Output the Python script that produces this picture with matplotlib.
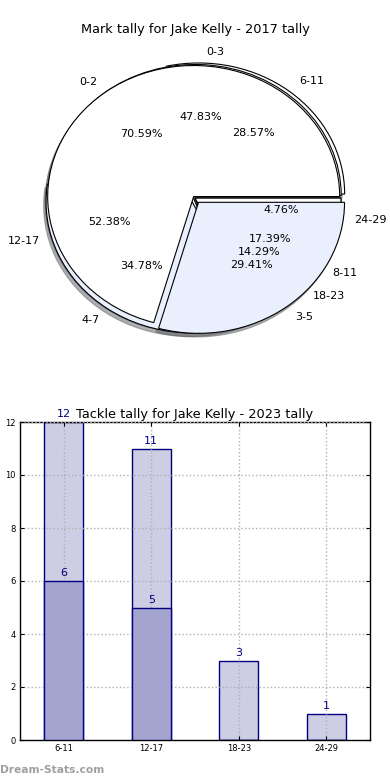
import matplotlib
matplotlib.use("Agg")
import matplotlib.pyplot as plt

# ---- data ----
pie_a_labels = ["0-3", "4-7", "8-11"]
pie_a_values = [11, 8, 4]
pie_c_labels = ["6-11", "12-17", "18-23", "24-29"]
pie_c_values = [6, 11, 3, 1]
pie_b_labels = ["0-2", "3-5"]
pie_b_values = [12, 5]

bar_categories = ["6-11", "12-17", "18-23", "24-29"]
bar_totals = [12, 11, 3, 1]
bar_inner = [6, 5, 0, 0]

WHITE = "#ffffff"
LBLUE = "#e9effc"
BAR_LIGHT = "#cdcde3"
BAR_DARK = "#a3a5cf"
NAVY = "#000080"

fig = plt.figure(figsize=(3.9, 7.8), dpi=100)

# ---- pie chart (overlaid pies) ----
ax1 = fig.add_axes([0.032, 0.536, 0.936, 0.42])
wp = dict(edgecolor="black", linewidth=0.8)
tp = dict(fontsize=8)
sh = dict(ox=-0.012, oy=-0.02, shade=0.6)
ax1.pie(pie_c_values, labels=pie_c_labels, autopct="%.2f%%",
        colors=[WHITE, WHITE, WHITE, LBLUE], explode=[0.04, 0.01, 0.0, 0.0],
        shadow=sh, wedgeprops=wp, textprops=tp)
ax1.pie(pie_a_values, labels=pie_a_labels, autopct="%.2f%%",
        colors=[WHITE, LBLUE, WHITE], explode=[0.02, 0.035, 0.0],
        shadow=sh, wedgeprops=wp, textprops=tp)
ax1.pie(pie_b_values, labels=pie_b_labels, autopct="%.2f%%",
        colors=[WHITE, LBLUE], explode=[0.015, 0.04],
        shadow=sh, wedgeprops=wp, textprops=tp)
ax1.set_aspect("auto")
ax1.set_xlim(-1.25, 1.25)
ax1.set_ylim(-1.25, 1.25)
fig.text(0.5, 1 - 30 / 780, "Mark tally for Jake Kelly - 2017 tally",
         ha="center", va="center", fontsize=9.3)

# ---- bar chart ----
ax2 = fig.add_axes([20 / 390, 40 / 780, 350 / 390, 318 / 780])
x = list(range(len(bar_categories)))
w = 0.45
ax2.bar(x, bar_totals, width=w, color=BAR_LIGHT, edgecolor=NAVY, linewidth=1, zorder=2)
ax2.bar(x, bar_inner, width=w, color=BAR_DARK, edgecolor=NAVY, linewidth=1, zorder=3)
for xi, v in zip(x, bar_totals):
    ax2.annotate(str(v), (xi, v), xytext=(0, 2), textcoords="offset points",
                 ha="center", va="bottom", fontsize=8, color=NAVY, zorder=5,
                 annotation_clip=False)
for xi, v in zip(x, bar_inner):
    if v > 0:
        ax2.annotate(str(v), (xi, v), xytext=(0, 2), textcoords="offset points",
                     ha="center", va="bottom", fontsize=8, color=NAVY, zorder=5)
ax2.set_xlim(-0.5, 3.5)
ax2.set_ylim(0, 12)
ax2.set_xticks(x)
ax2.set_xticklabels(bar_categories)
ax2.set_yticks(range(0, 13, 2))
ax2.tick_params(axis="both", labelsize=6, direction="in", length=3,
                top=True, right=True, pad=3)
ax2.grid(True, linestyle=":", color="#b0b0b0", linewidth=1, zorder=4)
ax2.set_axisbelow(False)
for s in ax2.spines.values():
    s.set_linewidth(1)
ax2.set_title("Tackle tally for Jake Kelly - 2023 tally", fontsize=9.3, pad=3)

fig.text(0.0, 1 - 770 / 780, "Dream-Stats.com", ha="left", va="center",
         fontsize=7.7, color="#a0a0a0", fontweight="bold")

fig.savefig("out.png", dpi=100)
